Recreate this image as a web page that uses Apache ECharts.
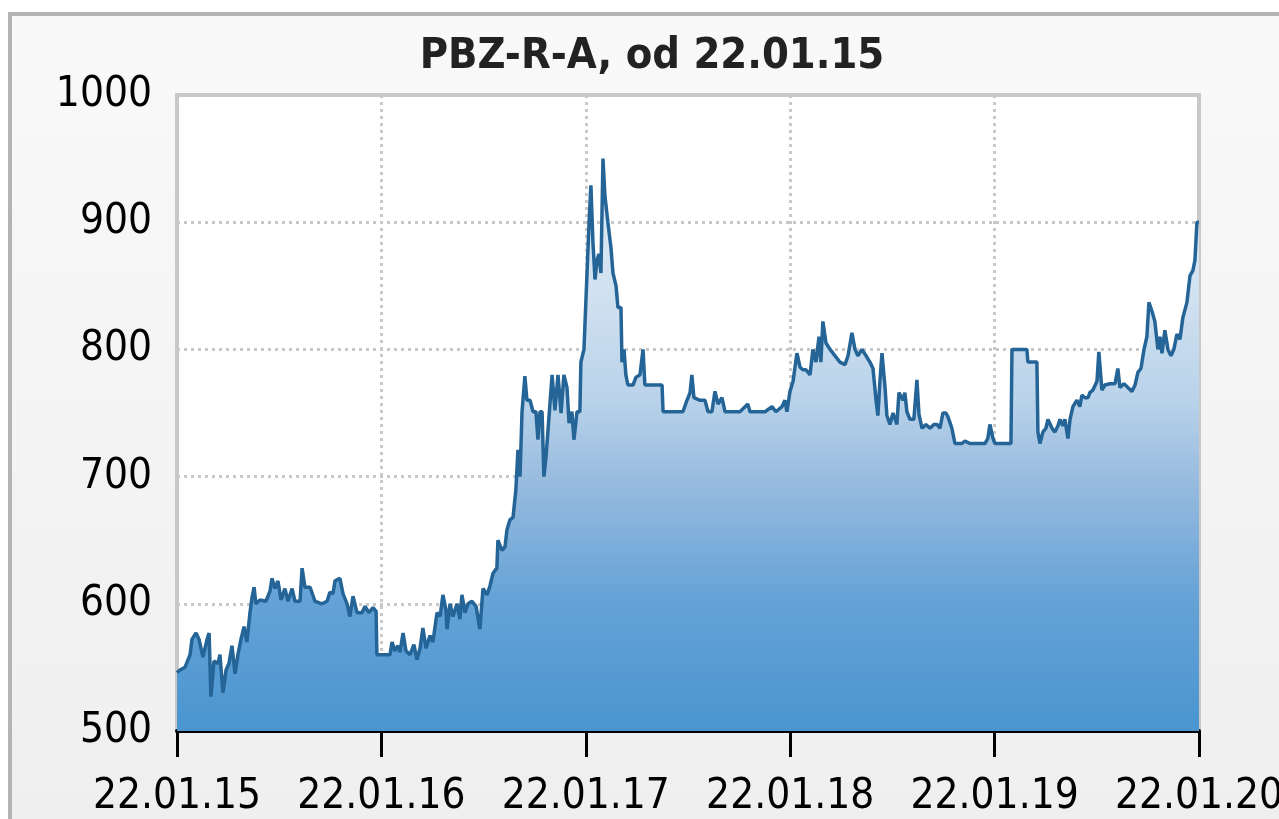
<!DOCTYPE html>
<html>
<head>
<meta charset="utf-8">
<script src="https://cdn.jsdelivr.net/npm/echarts@6/dist/echarts.min.js"></script>
<style>
  body { margin: 0; background: #fff; width: 1279px; height: 819px; overflow: hidden; }
  #frame {
    position: absolute; left: 8px; top: 12px; right: 0; bottom: 0;
    border-top: 4px solid #b4b4b4; border-left: 4px solid #b4b4b4;
    background: linear-gradient(#f9f9f9, #efefef);
  }
  #main { position: absolute; left: 0; top: 0; width: 1279px; height: 819px; }
</style>
</head>
<body>
<div id="frame"></div>
<div id="main"></div>
<script>
const titleText = "PBZ-R-A, od 22.01.15";
const startYear = 2015;
const xTickLabels = ["22.01.15", "22.01.16", "22.01.17", "22.01.18", "22.01.19", "22.01.20"];

// time in years since 22.01.15
const yearOffsets = [
  0, .015, .039, .064, .073, .093, .108, .127, .147, .157, .166, .181, .201, .210, .225, .240,
  .254, .269, .284, .298, .313, .328, .342, .357, .367, .377, .386, .406, .435, .455, .465, .479,
  .494, .509, .528, .543, .563, .577, .602, .612, .626, .651, .675, .709, .734, .748, .763, .773,
  .797, .812, .832, .846, .861, .881, .905, .920, .939, .959, .974, .978,
  1.018, 1.042, 1.052, 1.066, 1.081, 1.091, 1.106, 1.120, 1.140, 1.159, 1.174, 1.189, 1.203, 1.218,
  1.238, 1.252, 1.272, 1.287, 1.301, 1.316, 1.321, 1.336, 1.350, 1.370, 1.384, 1.394, 1.409, 1.424,
  1.443, 1.463, 1.482, 1.497, 1.517, 1.531, 1.546, 1.565, 1.570, 1.590, 1.605, 1.614, 1.629, 1.644,
  1.658, 1.668, 1.678, 1.688, 1.702, 1.712, 1.727, 1.742, 1.756, 1.766, 1.776, 1.786, 1.795, 1.805,
  1.820, 1.835, 1.849, 1.864, 1.879, 1.893, 1.908, 1.918, 1.932, 1.942, 1.957, 1.971, 1.976, 1.991,
  2.006, 2.016, 2.025, 2.035, 2.045, 2.055, 2.064, 2.074, 2.084, 2.094, 2.108, 2.123, 2.133, 2.148,
  2.157, 2.172, 2.177, 2.187, 2.196, 2.206, 2.231, 2.245, 2.265, 2.280, 2.289, 2.338, 2.373, 2.378,
  2.412, 2.475, 2.495, 2.510, 2.519, 2.529, 2.559, 2.583, 2.598, 2.617, 2.632, 2.647, 2.666, 2.681,
  2.705, 2.754, 2.793, 2.803, 2.877, 2.911, 2.930, 2.960, 2.974, 2.984, 2.999,
  3.014, 3.023, 3.033, 3.048, 3.062, 3.077, 3.097, 3.111, 3.126, 3.141, 3.150, 3.160, 3.175, 3.195,
  3.219, 3.243, 3.268, 3.283, 3.302, 3.317, 3.331, 3.351, 3.371, 3.390, 3.405, 3.420, 3.429, 3.439,
  3.449, 3.464, 3.473, 3.488, 3.503, 3.522, 3.532, 3.552, 3.561, 3.571, 3.586, 3.605, 3.620, 3.630,
  3.645, 3.664, 3.684, 3.703, 3.718, 3.733, 3.747, 3.762, 3.772, 3.791, 3.806, 3.840, 3.855, 3.879,
  3.904, 3.928, 3.953, 3.967, 3.977, 3.992,
  4.002, 4.051, 4.080, 4.085, 4.124, 4.158, 4.163, 4.197, 4.207, 4.212, 4.222, 4.236, 4.251, 4.261,
  4.281, 4.295, 4.310, 4.320, 4.334, 4.344, 4.359, 4.369, 4.383, 4.403, 4.417, 4.427, 4.442, 4.457,
  4.466, 4.481, 4.501, 4.510, 4.525, 4.540, 4.564, 4.589, 4.603, 4.613, 4.633, 4.652, 4.672, 4.687,
  4.701, 4.716, 4.731, 4.745, 4.755, 4.770, 4.784, 4.799, 4.809, 4.819, 4.833, 4.848, 4.863, 4.877,
  4.892, 4.907, 4.921, 4.941, 4.956, 4.970, 4.980, 4.990, 5.000
];

const prices = [
  546, 548, 550, 560, 572, 577, 572, 558, 572, 577, 527, 555, 553, 560, 530, 548,
  553, 567, 545, 560, 572, 582, 570, 593, 605, 613, 600, 603, 602, 610, 620, 612,
  618, 603, 612, 602, 612, 602, 602, 628, 613, 613, 602, 600, 602, 609, 608, 618,
  620, 608, 600, 590, 606, 593, 593, 598, 593, 597, 594, 560,
  560, 560, 570, 563, 567, 562, 577, 563, 560, 568, 556, 565, 581, 565,
  575, 570, 593, 590, 607, 595, 580, 600, 590, 600, 588, 607, 593, 600,
  602, 598, 580, 612, 607, 614, 624, 628, 650, 642, 645, 658, 666, 668,
  690, 721, 700, 751, 779, 760, 760, 751, 751, 729, 751, 751, 700, 715,
  747, 780, 752, 780, 750, 780, 770, 742, 751, 729, 751, 751, 790, 800,
  860, 900, 929, 884, 855, 870, 875, 860, 950, 920, 900, 880, 860, 850,
  833, 833, 790, 800, 780, 772, 772, 778, 780, 800, 772, 772, 772, 751,
  751, 751, 760, 766, 780, 762, 760, 760, 751, 751, 767, 757, 762, 751,
  751, 751, 757, 751, 751, 755, 751, 755, 760, 751, 767,
  775, 774, 797, 786, 784, 784, 780, 800, 790, 810, 790, 822, 805, 800,
  795, 790, 788, 795, 813, 800, 795, 800, 795, 790, 785, 760, 748, 775,
  797, 770, 748, 741, 750, 741, 766, 760, 766, 751, 745, 745, 776, 749,
  738, 741, 738, 741, 741, 738, 750, 750, 747, 738, 726, 726, 728, 726,
  726, 726, 726, 730, 741, 730,
  726, 726, 726, 800, 800, 800, 790, 790, 790, 735, 726, 735, 738, 745,
  738, 735, 740, 745, 740, 745, 730, 745, 755, 760, 755, 764, 762, 762,
  766, 768, 775, 798, 768, 772, 773, 773, 785, 770, 773, 770, 767, 772,
  782, 785, 800, 810, 837, 830, 822, 800, 810, 797, 815, 800, 795, 800,
  812, 808, 825, 837, 858, 862, 870, 900, 900
];

const seriesData = yearOffsets.map((t, i) => [startYear + t, prices[i]]);

const labelFont = "'Liberation Sans Narrow', 'DejaVu Sans Condensed', sans-serif";
const gridDash = { color: "#c8c8c8", width: 3, type: [3, 4] };

let chart = echarts.init(document.getElementById("main"), null, { renderer: "canvas" });

let option = {
  animation: false,
  backgroundColor: "transparent",
  title: {
    text: titleText,
    left: 647,
    textAlign: "center",
    top: 30,
    textStyle: { fontFamily: labelFont, fontSize: 43, fontWeight: "bold", color: "#222" },
  },
  grid: {
    left: 177, right: 80, top: 95, bottom: 88,
    outerBoundsMode: "none",
    containLabel: false,
    show: true,
    backgroundColor: "#fff",
    borderColor: "#c8c8c8",
    borderWidth: 4,
  },
  xAxis: {
    type: "value",
    min: 2015, max: 2020, interval: 1,
    axisLine: { lineStyle: { color: "#000", width: 4 } },
    axisTick: { show: true, length: 26, lineStyle: { color: "#000", width: 3 } },
    axisLabel: {
      margin: 45,
      color: "#000",
      fontFamily: labelFont,
      fontSize: 42,
      showMinLabel: true,
      showMaxLabel: true,
      hideOverlap: false,
      formatter: (v) => xTickLabels[Math.round(v - startYear)],
    },
    splitLine: { show: true, lineStyle: gridDash },
  },
  yAxis: {
    type: "value",
    min: 500, max: 1000, interval: 100,
    axisLine: { show: false },
    axisTick: { show: false },
    axisLabel: {
      margin: 25, color: "#000", fontFamily: labelFont, fontSize: 42,
      formatter: (v) => String(v),
    },
    splitLine: { show: true, lineStyle: gridDash },
  },
  series: [
    {
      type: "line",
      data: seriesData,
      showSymbol: false,
      lineStyle: { color: "#246497", width: 3.5 },
      areaStyle: {
        origin: "start",
        opacity: 1,
        color: new echarts.graphic.LinearGradient(0, 0, 0, 1, [
          { offset: 0, color: "#e4eef8" },
          { offset: 0.25, color: "#cfe0f0" },
          { offset: 0.42, color: "#b9d3ea" },
          { offset: 0.55, color: "#9bbde0" },
          { offset: 0.77, color: "#65a2d6" },
          { offset: 1, color: "#4a95d0" },
        ]),
      },
    },
  ],
};

chart.setOption(option);
</script>
</body>
</html>
